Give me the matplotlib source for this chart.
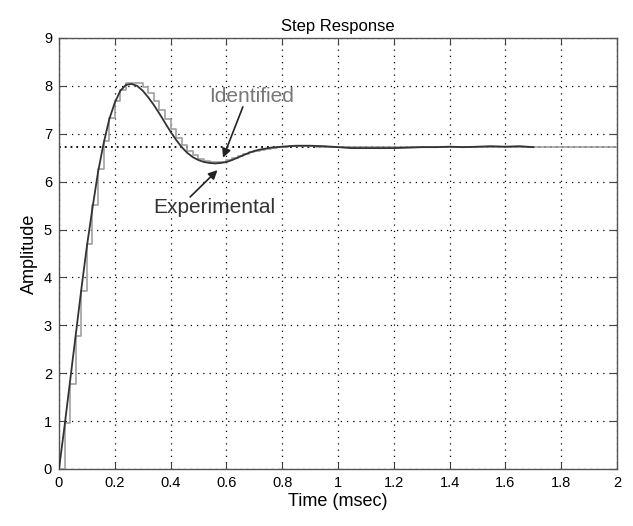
import matplotlib
matplotlib.use("Agg")
import matplotlib.pyplot as plt
import numpy as np

plt.rcParams['font.family'] = ['Liberation Sans', 'DejaVu Sans']

# Identified model (discrete, sampled every 0.02 ms) - staircase
Ts = 0.02
identified = [0.0, 0.96, 1.78, 2.78, 3.72, 4.70, 5.52, 6.26, 6.85, 7.32,
              7.68, 7.92, 8.05, 8.07, 8.05, 7.97, 7.85, 7.69, 7.50, 7.30,
              7.10, 6.92, 6.77, 6.65, 6.55, 6.48, 6.44, 6.42, 6.41, 6.42,
              6.45, 6.49, 6.53, 6.57, 6.61, 6.64, 6.67, 6.69, 6.71, 6.72,
              6.73, 6.74, 6.74, 6.74, 6.74, 6.74, 6.73, 6.73, 6.73, 6.72]
identified = identified + [6.72] * (101 - len(identified))

# Experimental response
exp_t = [0.00, 0.02, 0.04, 0.06, 0.08, 0.10, 0.12, 0.14, 0.16, 0.18,
         0.20, 0.22, 0.24, 0.26, 0.28, 0.30, 0.32, 0.34, 0.36, 0.38,
         0.40, 0.42, 0.44, 0.46, 0.48, 0.50, 0.52, 0.54, 0.56, 0.58,
         0.60, 0.62, 0.64, 0.66, 0.68, 0.70, 0.72, 0.74, 0.76, 0.78,
         0.80, 0.85, 0.90, 0.95, 1.00, 1.05, 1.10, 1.15, 1.20, 1.25,
         1.30, 1.35, 1.40, 1.45, 1.50, 1.55, 1.60, 1.65, 1.70]
exp_y = [0.00, 0.90, 1.85, 2.80, 3.75, 4.65, 5.45, 6.20, 6.80, 7.30,
         7.65, 7.90, 8.02, 8.04, 8.00, 7.90, 7.76, 7.60, 7.42, 7.23,
         7.04, 6.87, 6.72, 6.60, 6.51, 6.45, 6.41, 6.39, 6.38, 6.39,
         6.41, 6.45, 6.50, 6.55, 6.60, 6.64, 6.67, 6.69, 6.71, 6.72,
         6.73, 6.75, 6.75, 6.74, 6.72, 6.70, 6.70, 6.70, 6.70, 6.71,
         6.72, 6.72, 6.73, 6.72, 6.73, 6.74, 6.73, 6.74, 6.72]

steady_state = 6.72
xticks = [0, 0.2, 0.4, 0.6, 0.8, 1, 1.2, 1.4, 1.6, 1.8, 2]
xticklabels = ['0', '0.2', '0.4', '0.6', '0.8', '1', '1.2', '1.4', '1.6', '1.8', '2']
yticks = list(range(0, 10))

fig = plt.figure(figsize=(6.33, 5.26), dpi=100)
ax = fig.add_axes([0.0932, 0.1084, 0.8815, 0.8194])

t_id = np.arange(len(identified)) * Ts
ax.step(t_id, identified, where='post', color='#a0a0a0', lw=1.2, zorder=3)
ax.plot(exp_t, exp_y, color='#333333', lw=1.3, zorder=4)
ax.axhline(steady_state, color='k', lw=1.3, ls=(0, (1, 2.2)), zorder=2)

ax.set_xlim(0, 2)
ax.set_ylim(0, 9)
ax.set_xticks(xticks)
ax.set_xticklabels(xticklabels)
ax.set_yticks(yticks)
ax.grid(True, color='k', lw=0.9, ls=(0, (1, 4)))
ax.tick_params(direction='in', top=True, right=True, labelsize=10.5, length=5,
               color='#444444', pad=5)
for s in ax.spines.values():
    s.set_color('#555555')
    s.set_linewidth(1.0)

ax.set_title('Step Response', fontsize=12, pad=5)
ax.set_xlabel('Time (msec)', fontsize=13, labelpad=2)
ax.set_ylabel('Amplitude', fontsize=13, labelpad=4)

ax.text(0.692, 7.78, 'Identified', fontsize=15, color='#777777',
        ha='center', va='center')
ax.text(0.555, 5.45, 'Experimental', fontsize=15, color='#333333',
        ha='center', va='center')
arrow = dict(arrowstyle='-|>', color='#222222', lw=1.2,
             shrinkA=0, shrinkB=0, mutation_scale=13)
ax.annotate('', xy=(0.588, 6.50), xytext=(0.659, 7.56), arrowprops=arrow)
ax.annotate('', xy=(0.568, 6.24), xytext=(0.47, 5.68), arrowprops=arrow)

fig.savefig('out.png', dpi=100)
